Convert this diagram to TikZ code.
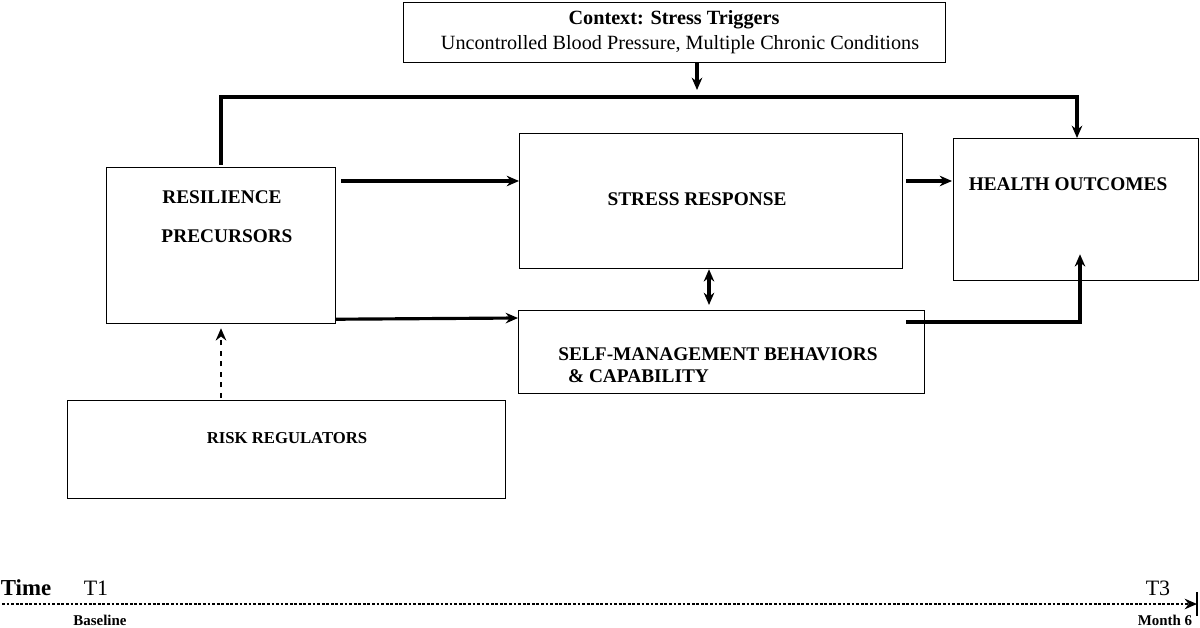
\documentclass[tikz,border=0pt]{standalone}
\usepackage{fontspec}
\setmainfont{Liberation Serif}
\usetikzlibrary{arrows.meta}
\usetikzlibrary{calc}

\begin{document}
\begin{tikzpicture}[x=0.02cm, y=-0.02cm,
  box/.style={draw, line width=0.7pt, anchor=north west, inner sep=0pt},
  lbl/.style={font=\fontsize{11}{13}\selectfont\bfseries, align=center},
  flow/.style={line width=1.8pt, -{Stealth[length=7pt,width=6pt]}}]
 \useasboundingbox (0,0) rectangle (1200,628);
  % boxes
  \node[box, minimum width=542*0.02cm, minimum height=60*0.02cm] (ctx) at (403,2) {};
  \node[box, minimum width=229*0.02cm, minimum height=156*0.02cm] (res) at (106,167) {};
  \node[box, minimum width=383*0.02cm, minimum height=135*0.02cm] (str) at (519,133) {};
  \node[box, minimum width=245*0.02cm, minimum height=142*0.02cm] (hlt) at (953,138) {};
  \node[box, minimum width=406*0.02cm, minimum height=83*0.02cm] (smb) at (518,310) {};
  \node[box, minimum width=438*0.02cm, minimum height=98*0.02cm] (rsk) at (67,400) {};

  % texts
  \node[font=\fontsize{11.5}{13}\selectfont\bfseries] (ctxa) at (674,20) {Context: Stress Triggers};
  \node[font=\fontsize{11.5}{13}\selectfont] (ctxb) at (680,45) {Uncontrolled Blood Pressure, Multiple Chronic Conditions};
  \node[lbl] (resa) at (222,197) {RESILIENCE};
  \node[lbl] (resb) at (227,236) {PRECURSORS};
  \node[lbl] (strt) at (697,199) {STRESS RESPONSE};
  \node[lbl] (hltt) at (1068,184) {HEALTH OUTCOMES};
  \node[lbl, font=\fontsize{11}{12.5}\selectfont\bfseries, align=left] (smbt) at (718,365) {SELF-MANAGEMENT BEHAVIORS\\\ \ \& CAPABILITY};
  \node[lbl, font=\fontsize{9.5}{11}\selectfont\bfseries] (rskt) at (287,438) {RISK REGULATORS};

  % connectors
  \coordinate (top) at (697,90);
  \coordinate (bend) at (221,97);
  \draw[flow] (ctx.south -| top) -- (top);
  \draw[flow] ($(res.north west)+(115,-2)$) -- (bend) -| ($(hlt.north west)+(124,0)$);
  \draw[flow] ($(res.north east)+(5,14)$) -- ($(str.north west)+(0,48)$);
  \draw[flow] ($(str.north east)+(3,48)$) -- ($(hlt.north west)+(-1,43)$);
  \draw[flow] ($(res.south east)+(0,-5)$) -- ($(smb.north west)+(0,8)$);
  \draw[line width=1.8pt, {Stealth[length=7pt,width=6pt]}-{Stealth[length=7pt,width=6pt]}] ($(str.south west)+(190,0)$) -- ($(smb.north west)+(191,-5)$);
  \draw[flow] ($(smb.north east)+(-19,12)$) -| ($(hlt.south west)+(127,-27)$);
  \draw[line width=1.4pt, dashed, -{Stealth[length=7pt,width=6pt]}] ($(rsk.north west)+(154,-2)$) -- ($(res.south west)+(115,4)$);

  % time line
  \node[font=\fontsize{13}{14}\selectfont\bfseries] (time) at (26,588) {Time};
  \node[font=\fontsize{12.5}{14}\selectfont] (t1) at (96,588) {T1};
  \node[font=\fontsize{12.5}{14}\selectfont] (t3) at (1158,588) {T3};
  \node[font=\fontsize{8.5}{10}\selectfont\bfseries] (base) at (100,620) {Baseline};
  \node[font=\fontsize{8.5}{10}\selectfont\bfseries] (m6) at (1165,620) {Month 6};
  \coordinate (ts) at (2,604);
  \coordinate (te) at (1197,604);
  \draw[line width=1.6pt, densely dotted, -{Stealth[length=7pt,width=6pt]}] (ts) -- (te);
  \draw[line width=0.8pt] ($(te)+(0,-12)$) -- ($(te)+(0,12)$);
\end{tikzpicture}
\end{document}
